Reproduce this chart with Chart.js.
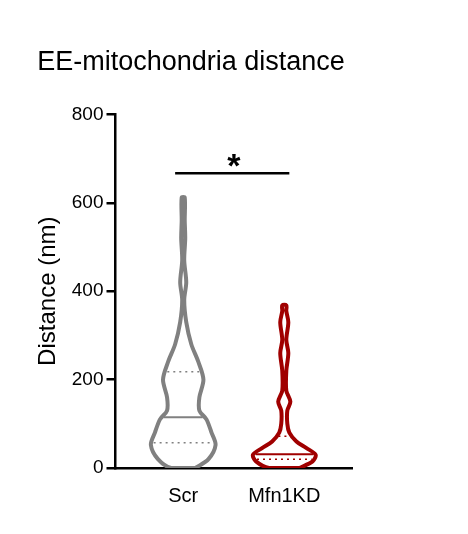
<!DOCTYPE html>
<html><head><script src="https://cdn.jsdelivr.net/npm/chart.js@4"></script>
<style>body{margin:0;background:#fff}</style></head><body>
<canvas id="c" width="468" height="534"></canvas>
<script>
const categories = ["Scr", "Mfn1KD"];
const yTicks = [0, 200, 400, 600, 800];
// violin profiles: distance (nm) and half-width (fraction of category width)
const scrY  = [0, 20, 52, 80, 110, 130, 160, 200, 240, 280, 330, 380, 420, 470, 520, 560, 612];
const scrW  = [0.12, 0.25, 0.32, 0.28, 0.23, 0.16, 0.16, 0.20, 0.15, 0.08, 0.03, 0.01, 0.03, 0.01, 0.02, 0.015, 0.015];
const mfnY  = [0, 15, 30, 45, 60, 80, 100, 130, 150, 175, 220, 260, 290, 330, 355, 368];
const mfnW  = [0.15, 0.28, 0.31, 0.22, 0.12, 0.05, 0.03, 0.03, 0.06, 0.02, 0.02, 0.04, 0.02, 0.04, 0.02, 0.02];
const scrMedian = 115, scrQ = [57, 218];
const mfnMedian = 31, mfnQ = [20, 72];
const sigY = 667;

function interp(ys, ws, v){
  for(let i=0;i<ys.length-1;i++) if(v>=ys[i]&&v<=ys[i+1]){const t=(v-ys[i])/(ys[i+1]-ys[i]);return ws[i]+t*(ws[i+1]-ws[i]);}
  return 0;
}
function outline(c, ys, ws){
  const pts=[];
  for(let i=0;i<ys.length;i++) pts.push({x:c+ws[i],y:ys[i]});
  for(let i=ys.length-1;i>=0;i--) pts.push({x:c-ws[i],y:ys[i]});
  pts.push({x:c+ws[0],y:ys[0]});
  return pts;
}
function hline(c, ys, ws, v){const w=interp(ys,ws,v)-0.02;return [{x:c-w,y:v},{x:c+w,y:v}];}
const grey='#808080', red='#a00000';
const base={showLine:true,pointRadius:0,fill:false};
const datasets=[
 {...base,data:outline(0,scrY,scrW),borderColor:grey,borderWidth:4,tension:0.3},
 {...base,data:outline(1,mfnY,mfnW),borderColor:red,borderWidth:4,tension:0.3},
 {...base,data:hline(0,scrY,scrW,scrMedian),borderColor:grey,borderWidth:2},
 {...base,data:hline(0,scrY,scrW,scrQ[0]),borderColor:grey,borderWidth:1.5,borderDash:[2,4]},
 {...base,data:hline(0,scrY,scrW,scrQ[1]),borderColor:grey,borderWidth:1.5,borderDash:[2,4]},
 {...base,data:hline(1,mfnY,mfnW,mfnMedian),borderColor:red,borderWidth:2},
 {...base,data:hline(1,mfnY,mfnW,mfnQ[0]),borderColor:red,borderWidth:1.5,borderDash:[2,4]},
 {...base,data:hline(1,mfnY,mfnW,mfnQ[1]),borderColor:red,borderWidth:1.5,borderDash:[2,4]},
 {...base,data:[{x:-0.08,y:sigY},{x:1.05,y:sigY}],borderColor:'#000',borderWidth:2.5}
];
const starPlugin={id:'star',afterDatasetsDraw(ch){
  const {ctx,scales:{x,y}}=ch;ctx.save();ctx.fillStyle='#000';ctx.font='bold 34px Arial';ctx.textAlign='center';
  ctx.fillText('*',x.getPixelForValue(0.5),y.getPixelForValue(sigY)+4);ctx.restore();}};
new Chart(document.getElementById('c'),{type:'scatter',data:{datasets},plugins:[starPlugin],
 options:{responsive:false,animation:false,layout:{padding:{left:30,right:116,top:18,bottom:10}},
  plugins:{legend:{display:false},tooltip:{enabled:false},
   title:{display:true,text:'EE-mitochondria distance',color:'#000',font:{family:'Arial',size:27,weight:'normal'},padding:{top:28,bottom:36}}},
  scales:{
   x:{type:'linear',min:-0.67,max:1.67,
      afterBuildTicks(s){s.ticks=[{value:0},{value:1}];},
      ticks:{callback:v=>categories[v],color:'#000',font:{family:'Arial',size:20},padding:16},
      grid:{display:true,drawOnChartArea:false,drawTicks:false},border:{color:'#000',width:2.5}},
   y:{min:0,max:800,afterBuildTicks(s){s.ticks=yTicks.map(v=>({value:v}));},
      ticks:{color:'#000',font:{family:'Arial',size:19},padding:3},
      grid:{drawOnChartArea:false,tickLength:9,color:'#000',lineWidth:2.5},border:{color:'#000',width:2.5},
      title:{display:true,text:'Distance (nm)',color:'#000',font:{family:'Arial',size:24},padding:{bottom:6}}}
  }}});
</script></body></html>
